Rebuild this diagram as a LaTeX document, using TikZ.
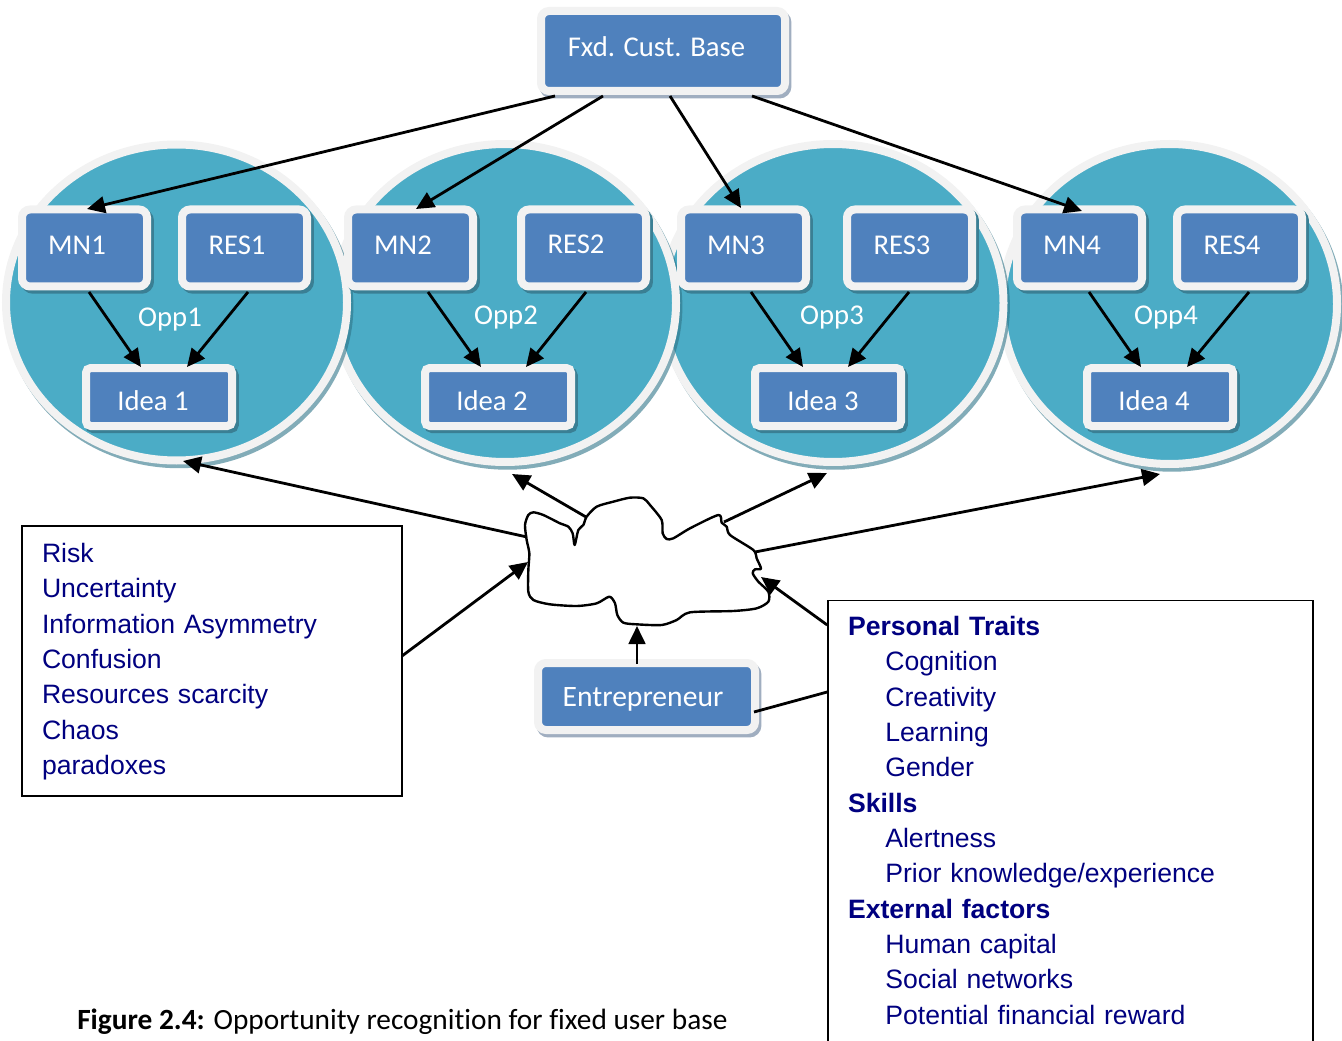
\documentclass[tikz,border=0pt]{standalone}
\usepackage{fontspec}
\setmainfont{Carlito}[Ligatures=NoCommon]
\newfontfamily\arialf{Liberation Sans}
\usetikzlibrary{arrows.meta,shapes.geometric}
\definecolor{rimc}{HTML}{F2F2F2}
\definecolor{bluec}{HTML}{4F81BD}
\definecolor{tealc}{HTML}{4BACC6}
\definecolor{shteal}{HTML}{3A7F94}
\definecolor{shgrey}{HTML}{A0AEC0}
\definecolor{shcirc}{HTML}{2F7488}
\definecolor{navyc}{HTML}{000080}
\newdimen\pxu \pxu=0.75pt
\newcommand{\lab}[3]{\raisebox{-#2\pxu}[0pt][0pt]{\makebox[0pt]{\kern#1\pxu\kern#1\pxu #3}}}
\tikzset{
  x=0.75pt,y=-0.75pt,
  basebox/.style={rectangle,fill=bluec,draw=rimc,line width=6pt,inner sep=0pt,text=white,font=\fontsize{21.5pt}{24pt}\selectfont},
  mnbox/.style={basebox,minimum width=93.75pt,minimum height=57.75pt,rounded corners=6pt,
    preaction={draw=shteal,fill=shteal,line width=6pt,transform canvas={xshift=2.2pt,yshift=-2.4pt}}},
  ideabox/.style={basebox,minimum width=109.5pt,minimum height=43.5pt,rounded corners=3.5pt,
    preaction={draw=shteal,fill=shteal,line width=6pt,transform canvas={xshift=2.2pt,yshift=-2.4pt}}},
  topbox/.style={basebox,rounded corners=6pt,
    preaction={draw=shgrey,fill=shgrey,line width=6pt,transform canvas={xshift=1.8pt,yshift=-2.6pt}}},
  oppc/.style={ellipse,fill=tealc,draw=rimc,line width=6pt,inner sep=0pt,text=white,
    font=\fontsize{21.5pt}{24pt}\selectfont,
    preaction={draw=shcirc,draw opacity=.6,fill=none,line width=6pt,transform canvas={xshift=1.8pt,yshift=-2.8pt}}},
  conn/.style={draw=black,line width=2.1pt,-{Triangle[length=13.5pt,width=12.5pt]}},
  plainconn/.style={draw=black,line width=2.1pt},
  listbox/.style={rectangle,draw=black,line width=1.2pt,fill=white,inner sep=0pt,text=navyc,
    font=\arialf\fontsize{19.95pt}{26.5pt}\selectfont},
}
\begin{document}
\begin{tikzpicture}
\useasboundingbox (0,0) rectangle (1342,1041);
\clip (0,0) rectangle (1342,1041);
% opportunity circles
\node[oppc,minimum width=251.25pt,minimum height=240pt] (c4) at (1169.5,304) {\lab{-3.5}{21}{Opp4}};
\node[oppc,minimum width=255.75pt,minimum height=238.5pt] (c3) at (833,303) {\lab{-1}{22}{Opp3}};
\node[oppc,minimum width=256.5pt,minimum height=238.5pt] (c2) at (505,303) {\lab{1}{22}{Opp2}};
\node[oppc,minimum width=255.75pt,minimum height=237pt] (c1) at (176.5,302.5) {\lab{-6.5}{24.5}{Opp1}};
% top box
\node[topbox,minimum width=183pt,minimum height=60pt] (fxd) at (663,51) {\lab{-6.5}{6}{Fxd. Cust. Base}};
% boxes
\node[mnbox] (mn1) at (84.5,248) {\lab{-7.5}{7}{MN1}};
\node[mnbox] (res1) at (244.5,248) {\lab{-7.5}{7}{RES1}};
\node[ideabox] (idea1) at (159,397) {\lab{-6}{13}{Idea 1}};
\node[mnbox] (mn2) at (410.5,248) {\lab{-7.5}{7}{MN2}};
\node[mnbox] (res2) at (583.5,248) {\lab{-7.5}{6}{RES2}};
\node[ideabox] (idea2) at (498,397) {\lab{-6}{13}{Idea 2}};
\node[mnbox] (mn3) at (743.5,248) {\lab{-7.5}{7}{MN3}};
\node[mnbox] (res3) at (909.5,248) {\lab{-7.5}{7}{RES3}};
\node[ideabox] (idea3) at (828,397) {\lab{-5}{13}{Idea 3}};
\node[mnbox] (mn4) at (1079.5,248) {\lab{-7.5}{7}{MN4}};
\node[mnbox] (res4) at (1239.5,248) {\lab{-7.5}{7}{RES4}};
\node[ideabox] (idea4) at (1160,397) {\lab{-6}{13}{Idea 4}};
\node[topbox,minimum width=162.75pt,minimum height=50.25pt] (ent) at (646.5,696.5) {\lab{-3.5}{9.5}{\fontsize{22.2pt}{24pt}\selectfont Entrepreneur}};
% top connectors
\draw[conn] ([shift={(-108,45)}]fxd.center) -- ([shift={(2.5,-39)}]mn1.center);
\draw[conn] ([shift={(-60,45)}]fxd.center) -- ([shift={(5.5,-39)}]mn2.center);
\draw[conn] ([shift={(7,45)}]fxd.center) -- ([shift={(-2.5,-40)}]mn3.center);
\draw[conn] ([shift={(89,45)}]fxd.center) -- ([shift={(2.5,-37)}]mn4.center);
% inner connectors
\draw[conn] ([shift={(4.5,44)}]mn1.center) -- ([shift={(-18,-30)}]idea1.center);
\draw[conn] ([shift={(3.5,44)}]res1.center) -- ([shift={(28,-30)}]idea1.center);
\draw[conn] ([shift={(17.5,44)}]mn2.center) -- ([shift={(-17,-30)}]idea2.center);
\draw[conn] ([shift={(2.5,44)}]res2.center) -- ([shift={(28,-30)}]idea2.center);
\draw[conn] ([shift={(7.5,44)}]mn3.center) -- ([shift={(-25,-30)}]idea3.center);
\draw[conn] ([shift={(-.5,44)}]res3.center) -- ([shift={(20,-30)}]idea3.center);
\draw[conn] ([shift={(9.5,44)}]mn4.center) -- ([shift={(-19,-30)}]idea4.center);
\draw[conn] ([shift={(9.5,44)}]res4.center) -- ([shift={(27,-30)}]idea4.center);
% list boxes
\node[listbox,minimum width=285pt,minimum height=202.5pt,text width=255pt,align=left] (risks) at (212,661) {%
Risk\\Uncertainty\\Information Asymmetry\\Confusion\\Resources scarcity\\Chaos\\paradoxes\par\vspace{-1pt}};
\node[listbox,minimum width=363.75pt,minimum height=333pt,text width=333.75pt,align=left,anchor=north] (traits) at (1070.5,599.5) {%
\textbf{Personal Traits}\\
\hspace*{28pt}Cognition\\
\hspace*{28pt}Creativity\\
\hspace*{28pt}Learning\\
\hspace*{28pt}Gender\\
\textbf{Skills}\\
\hspace*{28pt}Alertness\\
\hspace*{28pt}Prior knowledge/experience\\
\textbf{External factors}\\
\hspace*{28pt}Human capital\\
\hspace*{28pt}Social networks\\
\hspace*{28pt}Potential financial reward\par\vspace{3pt}
};
% cloud
\coordinate (cloud) at (650,560);
\begin{scope}[shift={(500,470)},x=0.25pt,y=-0.25pt]
\draw[line width=1.8pt,fill=white,line join=round] plot[smooth cycle,tension=0.45] coordinates {
(75,165)(85,135)(100,127)(130,135)(180,160)(205,170)(218,190)(224,225)(235,180)(250,165)(260,140)(290,110)(340,95)(390,83)(430,85)(450,105)(485,150)(488,190)(500,207)(520,205)(570,175)(655,135)(665,158)(680,170)(690,195)(760,240)(770,265)(783,296)(765,298)(758,310)(775,335)(805,365)(805,395)(770,415)(700,423)(570,427)(530,450)(485,465)(410,463)(370,458)(352,435)(345,400)(328,380)(290,400)(230,408)(150,403)(100,390)(85,365)(85,300)(88,250)(80,210)};
\end{scope}
% cloud connectors
\draw[conn] ([shift={(-123,-23)}]cloud) -- ([shift={(6.5,158.5)}]c1.center);
\draw[conn] ([shift={(-64,-43)}]cloud) -- ([shift={(7,171)}]c2.center);
\draw[conn] ([shift={(74,-38)}]cloud) -- ([shift={(-6,170)}]c3.center);
\draw[conn] ([shift={(105,-8)}]cloud) -- ([shift={(-9.5,170)}]c4.center);
\draw[conn] ([shift={(190,-5)}]risks.center) -- ([shift={(-122,2)}]cloud);
\draw[conn] ([shift={(-9.5,-32.5)}]ent.center) -- ([shift={(-13,66)}]cloud);
\draw[conn] (traits.north west |- 0,625) -- ([shift={(111,17)}]cloud);
\draw[plainconn] ([shift={(107.5,15.5)}]ent.center) -- (traits.north west |- 0,692);
% caption
\node[anchor=base west,inner sep=0pt,text=black,font=\fontsize{22pt}{26pt}\selectfont] (cap) at (77,1029) {\textbf{Figure 2.4:} Opportunity recognition for fixed user base};
\end{tikzpicture}
\end{document}
